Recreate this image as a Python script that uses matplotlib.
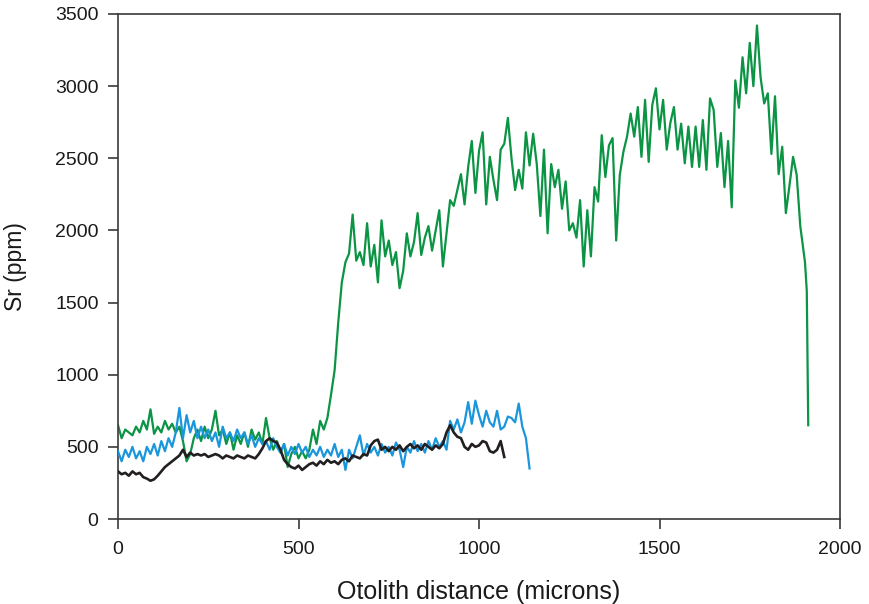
import numpy as np
import matplotlib
matplotlib.use("Agg")
import matplotlib.pyplot as plt
from matplotlib import font_manager

# ---------------- data ----------------
step = 10  # microns between samples

green_sr = [650, 560, 620, 600, 580, 640, 600, 680, 620, 760,
            590, 640, 600, 680, 620, 660, 600, 640, 540, 400,
            450, 560, 620, 540, 640, 560, 620, 750, 580, 620,
            520, 600, 480, 580, 520, 600, 500, 620, 550, 600,
            520, 700, 560, 480, 540, 460, 520, 360, 450, 500,
            420, 470, 420, 480, 620, 520, 680, 620, 700, 860,
            1030, 1360, 1640, 1780, 1840, 2110, 1790, 1850, 1760, 2050,
            1750, 1900, 1640, 2070, 1820, 1930, 1760, 1850, 1600, 1720,
            1980, 1820, 1920, 2120, 1830, 1950, 2030, 1860, 2000, 2140,
            1750, 1980, 2210, 2170, 2280, 2390, 2180, 2440, 2620, 2260,
            2550, 2680, 2180, 2510, 2350, 2210, 2560, 2600, 2780, 2500,
            2280, 2420, 2290, 2680, 2450, 2670, 2460, 2100, 2560, 1980,
            2460, 2300, 2420, 2150, 2340, 2000, 2050, 1950, 2210, 1750,
            2140, 1820, 2300, 2200, 2660, 2370, 2590, 2640, 1930, 2385,
            2545, 2650, 2810, 2650, 2855, 2510, 2905, 2475, 2870, 2985,
            2700, 2905, 2560, 2745, 2855, 2560, 2740, 2465, 2720, 2440,
            2720, 2440, 2765, 2420, 2915, 2835, 2440, 2675, 2300, 2620,
            2160, 3040, 2850, 3200, 2950, 3300, 3000, 3420, 3060, 2880,
            2950, 2530, 2930, 2390, 2580, 2120, 2310, 2510, 2385, 2030,
            1780, 1580, 650]

blue_sr = [470, 400, 480, 430, 500, 420, 470, 400, 500, 450,
           520, 440, 540, 470, 560, 500, 600, 770, 560, 720,
           600, 680, 560, 640, 560, 620, 540, 600, 500, 640,
           560, 600, 540, 620, 560, 600, 520, 580, 500, 560,
           520, 540, 480, 560, 500, 460, 520, 440, 500, 450,
           520, 460, 500, 430, 480, 440, 500, 430, 480, 440,
           520, 430, 480, 340, 480, 420, 500, 580, 440, 520,
           460, 500, 440, 520, 460, 500, 440, 530, 480, 360,
           500, 460, 540, 470, 520, 460, 540, 480, 560, 500,
           540, 480, 680, 620, 690, 600, 670, 810, 660, 820,
           720, 640, 750, 670, 640, 750, 620, 640, 710, 700,
           670, 800, 640, 560, 350]

black_sr = [330, 310, 320, 300, 330, 310, 320, 290, 280, 265,
            275, 300, 330, 360, 380, 400, 420, 440, 480, 430,
            460, 440, 450, 440, 450, 430, 440, 450, 440, 420,
            440, 430, 420, 440, 430, 420, 440, 430, 420, 450,
            490, 540, 560, 540, 530, 480, 410, 380, 360, 350,
            370, 340, 360, 380, 390, 370, 400, 380, 410, 390,
            400, 380, 410, 420, 400, 440, 430, 420, 450, 440,
            510, 540, 550, 480, 500, 470, 500, 480, 510, 470,
            500, 520, 490, 510, 480, 520, 500, 480, 510, 490,
            520, 600, 650, 600, 570, 560, 500, 480, 520, 500,
            510, 540, 530, 470, 460, 480, 540, 430]

x_ticks = [0, 500, 1000, 1500, 2000]
y_ticks = [0, 500, 1000, 1500, 2000, 2500, 3000, 3500]
x_label = "Otolith distance (microns)"
y_label = "Sr (ppm)"

# ---------------- styling ----------------
names = {f.name for f in font_manager.fontManager.ttflist}
base_font = "Liberation Sans" if "Liberation Sans" in names else "DejaVu Sans"
plt.rcParams["font.family"] = [base_font, "DejaVu Sans"]

GREEN = "#0b9444"
BLUE = "#1a96dc"
BLACK = "#231f20"
AXC = "#3a3a3a"
TXT = "#1a1a1a"

fig = plt.figure(figsize=(8.69, 6.04), dpi=100)
ax = fig.add_axes([118 / 869, 85 / 604, 722 / 869, 505 / 604])

gx = np.arange(len(green_sr)) * step
gx[-3:] = [1903, 1908, 1912]  # final sharp drop
bx = np.arange(len(blue_sr)) * step
kx = np.arange(len(black_sr)) * step

ax.plot(gx, green_sr, color=GREEN, lw=1.6, zorder=2)
ax.plot(bx, blue_sr, color=BLUE, lw=1.6, zorder=3)
ax.plot(kx, black_sr, color=BLACK, lw=1.9, zorder=4)

ax.set_xlim(0, 2000)
ax.set_ylim(0, 3500)
ax.set_xticks(x_ticks)
ax.set_yticks(y_ticks)
ax.set_xticklabels([str(t) for t in x_ticks], fontsize=14)
ax.set_yticklabels([str(t) for t in y_ticks], fontsize=14)

for s in ax.spines.values():
    s.set_color(AXC)
    s.set_linewidth(1.2)
ax.tick_params(axis="both", direction="out", length=7, width=1.2, color=AXC, labelcolor=TXT)
ax.tick_params(axis="y", pad=7)
ax.tick_params(axis="x", pad=9)

ax.set_xlabel(x_label, fontsize=18, color=TXT, labelpad=16)
ax.set_ylabel(y_label, fontsize=16.5, color=TXT, labelpad=20)

fig.savefig("out.png", dpi=100)
